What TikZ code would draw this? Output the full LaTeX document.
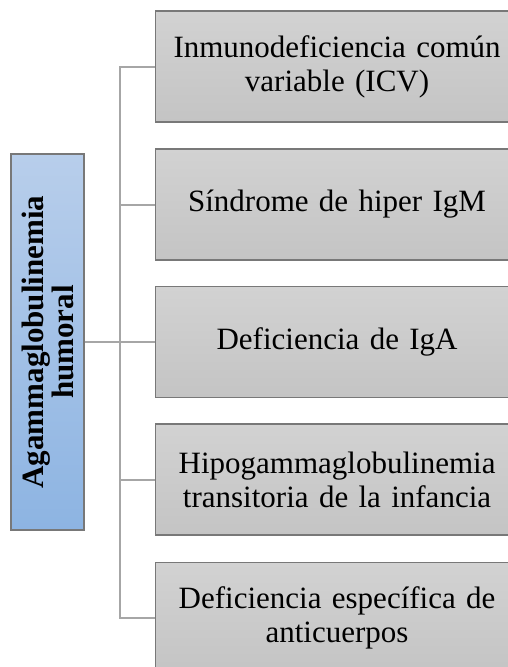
\documentclass[tikz,border=0pt]{standalone}
\usepackage{fontspec}
\setmainfont{Liberation Serif}
\definecolor{graytop}{RGB}{210,210,210}
\definecolor{graybot}{RGB}{196,196,196}
\definecolor{boxline}{RGB}{120,120,120}
\definecolor{bluetop}{RGB}{184,206,235}
\definecolor{bluebot}{RGB}{141,180,226}
\definecolor{connc}{RGB}{166,166,166}
\begin{document}
\begin{tikzpicture}[x=1pt,y=-1pt,
  item/.style={draw=boxline, line width=1.1pt, top color=graytop, bottom color=graybot,
    minimum width=363pt, minimum height=111pt, inner sep=0pt, anchor=west,
    text width=356pt, align=center, font=\fontsize{31}{34}\selectfont},
  mainbox/.style={draw=boxline, line width=1.1pt, top color=bluetop, bottom color=bluebot,
    rotate=90, minimum width=376pt, minimum height=73pt, inner sep=0pt,
    align=center, font=\bfseries\fontsize{31}{30}\selectfont},
  conn/.style={draw=connc, line width=2pt}]
\useasboundingbox (0,0) rectangle (508,667);
\begin{scope}
\clip (0,0) rectangle (508,667);
\node[mainbox] (main) at (47.5,342) {Agammaglobulinemia\\humoral};
\coordinate (bus) at (120,342);
\node[item] (b1) at (155,66.5) {Inmunodeficiencia común\\variable (ICV)};
\node[item] (b2) at (155,204.5) {Síndrome de hiper IgM};
\node[item] (b3) at (155,342) {Deficiencia de IgA};
\node[item] (b4) at (155,479.5) {Hipogammaglobulinemia\\transitoria de la infancia};
\node[item] (b5) at (155,618) {Deficiencia específica de\\anticuerpos};
\draw[conn] (main) -- (bus);
\foreach \n in {b1,b2,b3,b4,b5} {\draw[conn] (bus) |- (\n.west);}
\end{scope}
\end{tikzpicture}
\end{document}
